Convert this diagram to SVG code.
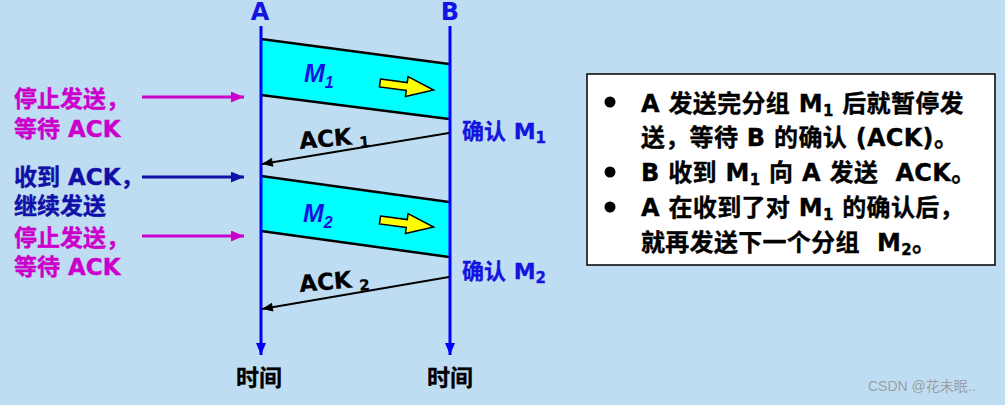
<svg xmlns="http://www.w3.org/2000/svg" width="1005" height="405" viewBox="0 0 1005 405">
<defs>
<style>
text{font-family:"DejaVu Sans","Noto Sans CJK SC",sans-serif;font-weight:bold}
.axis{stroke:#0000FF;stroke-width:3;fill:none}
.frame{fill:#00FFFF;stroke:none}
.edge{stroke:#000;stroke-width:2.5;fill:none}
.ack{stroke:#000;stroke-width:2;fill:none}
.mag{fill:#CC00CC;stroke:#CC00CC;stroke-width:0.4;font-size:23px}
.dblue{fill:#1010A8;stroke:#1010A8;stroke-width:0.4;font-size:23px}
.hdr{fill:#1414E0;font-size:24px}
.conf{fill:#1414E0;stroke:#1414E0;stroke-width:0.3;font-size:22px}
.blk{fill:#000;stroke:#000;stroke-width:0.3;font-size:23px}
.box{fill:#000;stroke:#000;stroke-width:0.35;font-size:24px;letter-spacing:0.3px;white-space:pre}
.yarrow{fill:#FFFF00;stroke:#000;stroke-width:1.5}
</style>
<marker id="ab" viewBox="0 0 12 10" refX="12" refY="5" markerWidth="12" markerHeight="10" markerUnits="userSpaceOnUse" orient="auto"><path d="M0,0 L12,5 L0,10 Z" fill="#0000FF"/></marker>
<marker id="ak" viewBox="0 0 12 10" refX="12" refY="5" markerWidth="12" markerHeight="9" markerUnits="userSpaceOnUse" orient="auto"><path d="M0,0 L12,5 L0,10 Z" fill="#000"/></marker>
<marker id="am" viewBox="0 0 12 10" refX="12" refY="5" markerWidth="13" markerHeight="11" markerUnits="userSpaceOnUse" orient="auto"><path d="M0,0 L12,5 L0,10 Z" fill="#CC00CC"/></marker>
<marker id="ad" viewBox="0 0 12 10" refX="12" refY="5" markerWidth="13" markerHeight="11" markerUnits="userSpaceOnUse" orient="auto"><path d="M0,0 L12,5 L0,10 Z" fill="#1010A8"/></marker>
</defs>
<rect width="1005" height="405" fill="#BFDDF2"/>

<g id="frame-m1">
<polygon class="frame" points="261,39 449,64 449,119 261,95"/>
<line class="edge" x1="261" y1="39" x2="449" y2="64"/>
<line class="edge" x1="261" y1="95" x2="449" y2="119"/>
<text x="304" y="82" fill="#1414E0" font-size="25" font-style="italic" style="font-family:'Liberation Sans',sans-serif">M<tspan font-size="16" dy="6">1</tspan></text>
<polygon class="yarrow" transform="translate(380,83) rotate(7.5)" points="0,-4 27,-4 27,-10 54,0 27,10 27,4 0,4"/>
</g>
<g id="frame-m2">
<polygon class="frame" points="261,176 449,202 449,257 261,231"/>
<line class="edge" x1="261" y1="176" x2="449" y2="202"/>
<line class="edge" x1="261" y1="231" x2="449" y2="257"/>
<text x="303" y="222" fill="#1414E0" font-size="25" font-style="italic" style="font-family:'Liberation Sans',sans-serif">M<tspan font-size="16" dy="6">2</tspan></text>
<polygon class="yarrow" transform="translate(380,220) rotate(7.5)" points="0,-4 27,-4 27,-10 54,0 27,10 27,4 0,4"/>
</g>

<g id="node-a">
<text class="hdr" x="260" y="20" text-anchor="middle">A</text>
<text class="blk" x="259" y="386" text-anchor="middle" font-size="24">时间</text>
</g>
<g id="node-b">
<text class="hdr" x="450" y="20" text-anchor="middle">B</text>
<text class="blk" x="450" y="386" text-anchor="middle" font-size="24">时间</text>
</g>

<g id="connectors">
<line class="axis" x1="261" y1="26" x2="261" y2="355" marker-end="url(#ab)"/>
<line class="axis" x1="450" y1="26" x2="450" y2="355" marker-end="url(#ab)"/>
<line class="ack" x1="449" y1="133" x2="262" y2="164" marker-end="url(#ak)"/>
<line class="ack" x1="449" y1="277" x2="262" y2="309" marker-end="url(#ak)"/>
<line x1="142" y1="97" x2="244" y2="97" stroke="#CC00CC" stroke-width="3" marker-end="url(#am)"/>
<line x1="142" y1="177" x2="244" y2="177" stroke="#1010A8" stroke-width="3" marker-end="url(#ad)"/>
<line x1="142" y1="236" x2="244" y2="236" stroke="#CC00CC" stroke-width="3" marker-end="url(#am)"/>
</g>

<g id="label-ack1">
<text class="blk" x="300" y="149" font-size="22" transform="rotate(-5 300 149)">ACK<tspan font-size="15" dx="7" dy="4">1</tspan></text>
</g>
<g id="label-ack2">
<text class="blk" x="300" y="292" font-size="22" transform="rotate(-5 300 292)">ACK<tspan font-size="15" dx="7" dy="4">2</tspan></text>
</g>

<g id="label-confirm-m1">
<text class="conf" x="462" y="139">确认 M<tspan font-size="15" dy="4">1</tspan></text>
</g>
<g id="label-confirm-m2">
<text class="conf" x="462" y="279">确认 M<tspan font-size="15" dy="4">2</tspan></text>
</g>

<g id="note-stop1">
<text class="mag" x="14" y="107">停止发送，</text>
<text class="mag" x="14" y="137">等待 ACK</text>
</g>
<g id="note-recv">
<text class="dblue" x="14" y="185">收到 ACK，</text>
<text class="dblue" x="14" y="214">继续发送</text>
</g>
<g id="note-stop2">
<text class="mag" x="14" y="246">停止发送，</text>
<text class="mag" x="14" y="275">等待 ACK</text>
</g>

<g id="summary-box">
<rect x="587" y="74" width="408" height="191" fill="#FFFFFF" stroke="#000" stroke-width="1.5"/>
<circle cx="610" cy="102" r="5.5" fill="#000"/>
<circle cx="610" cy="172" r="5.5" fill="#000"/>
<circle cx="610" cy="207" r="5.5" fill="#000"/>
<text class="box" x="641" y="112">A 发送完分组 M<tspan font-size="15" dy="4">1</tspan><tspan dy="-4"> 后就暂停发</tspan></text>
<text class="box" x="641" y="146">送，等待 B 的确认 (ACK)。</text>
<text class="box" x="641" y="181">B 收到 M<tspan font-size="15" dy="4">1</tspan><tspan dy="-4"> 向 A 发送  ACK。</tspan></text>
<text class="box" x="641" y="216">A 在收到了对 M<tspan font-size="15" dy="4">1</tspan><tspan dy="-4"> 的确认后，</tspan></text>
<text class="box" x="641" y="251">就再发送下一个分组  M<tspan font-size="15" dy="4">2</tspan><tspan dy="-4">。</tspan></text>
</g>

<text x="868" y="391" fill="#9AA0A6" font-size="14" style="font-family:'Liberation Sans','Noto Sans CJK SC',sans-serif;font-weight:normal">CSDN @花未眠..</text>
</svg>
